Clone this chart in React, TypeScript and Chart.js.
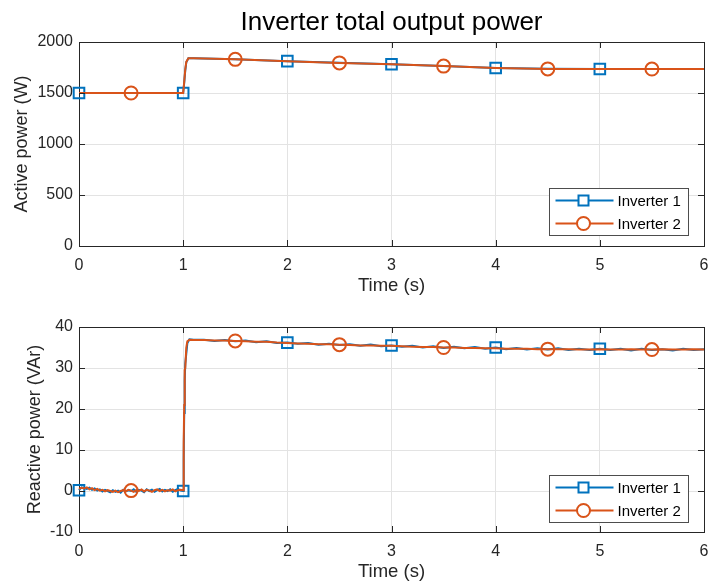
import React, { useEffect, useRef } from 'react';
import { Chart, registerables } from 'chart.js';

Chart.register(...registerables);

// ---------- data ----------
const T_P = [0, 0.5, 1, 1.01, 1.02, 1.03, 1.05, 1.1, 1.5, 2, 2.5, 3, 3.5, 4, 4.5, 5, 5.5, 6];
const P_INV1 = [1500, 1500, 1500, 1600, 1720, 1800, 1840, 1840, 1830, 1812, 1796, 1782, 1765, 1745, 1737, 1735, 1735, 1735];
const P_INV2 = [1500, 1500, 1500, 1610, 1730, 1805, 1840, 1840, 1830, 1812, 1795, 1781, 1764, 1745, 1736, 1735, 1735, 1735];

const T_Q = [
  0, 0.025, 0.05, 0.075, 0.1, 0.125, 0.15, 0.175, 0.2, 0.225, 0.25, 0.275, 0.3, 0.325, 0.35, 0.375, 0.4, 0.425, 0.45, 0.475,
  0.5, 0.525, 0.55, 0.575, 0.6, 0.625, 0.65, 0.675, 0.7, 0.725, 0.75, 0.775, 0.8, 0.825, 0.85, 0.875, 0.9, 0.925, 0.95, 0.975,
  1.0, 1.005, 1.01, 1.015, 1.02, 1.03, 1.04, 1.06, 1.1,
  1.2, 1.3, 1.4, 1.5, 1.6, 1.7, 1.8, 1.9, 2.0, 2.1, 2.2, 2.3, 2.4, 2.5, 2.6, 2.7, 2.8, 2.9, 3.0, 3.1, 3.2, 3.3, 3.4, 3.5,
  3.6, 3.7, 3.8, 3.9, 4.0, 4.1, 4.2, 4.3, 4.4, 4.5, 4.6, 4.7, 4.8, 4.9, 5.0, 5.1, 5.2, 5.3, 5.4, 5.5, 5.6, 5.7, 5.8, 5.9, 6.0,
];
const Q_INV1 = [
  0.2, 0.9, 0.7, 0.5, 0.8, 0.3, 0.6, 0.1, 0.4, -0.1, 0.3, 0.0, -0.3, 0.2, -0.2, 0.1, -0.4, 0.3, -0.1, 0.2,
  0.0, 0.4, -0.2, 0.3, 0.1, -0.3, 0.4, 0.0, 0.3, -0.2, 0.2, 0.5, -0.1, 0.3, 0.0, 0.4, -0.2, 0.2, 0.5, 0.1,
  0.0, 8, 19, 27, 31, 33.5, 36, 37.0, 36.9,
  36.9, 36.6, 36.8, 36.5, 36.7, 36.3, 36.5, 36.1, 36.2, 35.9, 36.1, 35.7, 35.9, 35.6, 35.8, 35.4, 35.7, 35.3, 35.5, 35.2, 35.4, 35.0, 35.3, 34.9,
  35.2, 34.8, 35.1, 34.7, 35.0, 34.6, 34.9, 34.5, 34.8, 34.5, 34.8, 34.4, 34.7, 34.4, 34.7, 34.4, 34.7, 34.3, 34.7, 34.4, 34.6, 34.3, 34.7, 34.4, 34.6,
];
const Q_INV2 = [
  0.5, 0.8, 0.6, 0.9, 0.4, 0.7, 0.2, 0.5, 0.1, 0.3, -0.1, 0.2, 0.0, -0.2, 0.1, -0.3, 0.0, 0.2, -0.1, 0.3,
  0.1, -0.2, 0.2, 0.0, 0.4, -0.1, 0.3, 0.1, -0.2, 0.2, 0.4, 0.0, 0.3, -0.1, 0.2, 0.1, 0.4, -0.1, 0.2, 0.3,
  0.2, 12, 21, 29.5, 30, 35, 36.5, 36.9, 36.8,
  36.8, 36.7, 36.7, 36.6, 36.5, 36.4, 36.4, 36.2, 36.1, 36.0, 35.9, 35.8, 35.8, 35.7, 35.6, 35.5, 35.5, 35.4, 35.4, 35.3, 35.2, 35.1, 35.1, 35.0,
  35.0, 34.9, 34.9, 34.8, 34.8, 34.7, 34.7, 34.7, 34.6, 34.6, 34.6, 34.6, 34.5, 34.5, 34.6, 34.5, 34.5, 34.6, 34.5, 34.5, 34.6, 34.5, 34.5, 34.6, 34.5,
];

const MARK_INV1 = [0, 1, 2, 3, 4, 5];
const MARK_INV2 = [0.5, 1.5, 2.5, 3.5, 4.5, 5.5];
const SERIES_NAMES = ['Inverter 1', 'Inverter 2'];
const X_TICKS = [0, 1, 2, 3, 4, 5, 6];
const P_TICKS = [0, 500, 1000, 1500, 2000];
const Q_TICKS = [-10, 0, 10, 20, 30, 40];

// ---------- style ----------
const BLUE = '#0072BD';
const ORANGE = '#D95319';
const AXIS = '#262626';
const GRID = '#e3e3e3';
const FONT = "'Liberation Sans', Arial, Helvetica, sans-serif";

const boxPlugin = {
  id: 'matlabBox',
  beforeDatasetsDraw(chart: any) {
    const ctx = chart.ctx;
    const a = chart.chartArea;
    ctx.save();
    ctx.strokeStyle = AXIS;
    ctx.lineWidth = 1;
    ctx.strokeRect(Math.round(a.left) + 0.5, Math.round(a.top) + 0.5, Math.round(a.right - a.left), Math.round(a.bottom - a.top));
    ctx.restore();
  },
  afterDraw(chart: any, _args: any, opts: any) {
    const ctx = chart.ctx;
    const a = chart.chartArea;
    const xs = chart.scales.x;
    const ys = chart.scales.y;
    ctx.save();
    ctx.strokeStyle = AXIS;
    ctx.lineWidth = 1;
    const tl = 6;
    ctx.beginPath();
    for (const v of opts.xTicks) {
      const px = Math.round(xs.getPixelForValue(v)) + 0.5;
      ctx.moveTo(px, a.bottom); ctx.lineTo(px, a.bottom - tl);
      ctx.moveTo(px, a.top); ctx.lineTo(px, a.top + tl);
    }
    for (const v of opts.yTicks) {
      const py = Math.round(ys.getPixelForValue(v)) + 0.5;
      ctx.moveTo(a.left, py); ctx.lineTo(a.left + tl, py);
      ctx.moveTo(a.right, py); ctx.lineTo(a.right - tl, py);
    }
    ctx.stroke();

    if (opts.title) {
      ctx.fillStyle = '#000';
      ctx.font = `26px ${FONT}`;
      ctx.textAlign = 'center';
      ctx.textBaseline = 'middle';
      ctx.fillText(opts.title, (a.left + a.right) / 2, 23);
    }

    const w = 139, h = 47;
    const lx = Math.round(a.right - 16 - w) + 0.5;
    const ly = Math.round(a.bottom - opts.legendBottom - h) + 0.5;
    ctx.fillStyle = '#fff';
    ctx.fillRect(lx, ly, w, h);
    ctx.strokeStyle = '#4d4d4d';
    ctx.lineWidth = 1;
    ctx.strokeRect(lx, ly, w, h);
    const colors = [BLUE, ORANGE];
    chart.data.datasets.forEach((ds: any, i: number) => {
      const ry = ly + 12 + i * 23;
      ctx.strokeStyle = colors[i];
      ctx.lineWidth = 2;
      ctx.beginPath();
      ctx.moveTo(lx + 6, ry); ctx.lineTo(lx + 64, ry);
      ctx.stroke();
      const mx = lx + 34;
      ctx.beginPath();
      if (i === 0) {
        ctx.rect(mx - 5, ry - 5, 10, 10);
      } else {
        ctx.arc(mx, ry, 6.5, 0, Math.PI * 2);
      }
      ctx.fillStyle = '#fff';
      ctx.fill();
      ctx.stroke();
      ctx.fillStyle = '#000';
      ctx.font = `15px ${FONT}`;
      ctx.textAlign = 'left';
      ctx.textBaseline = 'middle';
      ctx.fillText(ds.label, lx + 68, ry + 1);
    });
    ctx.restore();
  },
};

type PanelProps = {
  t: number[];
  s1: number[];
  s2: number[];
  yMin: number;
  yMax: number;
  yStep: number;
  yTicks: number[];
  yTitle: string;
  yTitlePad: number;
  title?: string;
  width: number;
  height: number;
  padTop: number;
  legendBottom: number;
};

function Panel(p: PanelProps) {
  const ref = useRef<HTMLCanvasElement | null>(null);
  useEffect(() => {
    if (!ref.current) return;
    const mk1 = new Set(MARK_INV1);
    const mk2 = new Set(MARK_INV2);
    const chart = new Chart(ref.current, {
      type: 'line',
      data: {
        datasets: [
          {
            label: SERIES_NAMES[0],
            data: p.t.map((x, i) => ({ x, y: p.s1[i] })),
            borderColor: BLUE,
            borderWidth: 2,
            pointStyle: 'rect',
            pointRadius: (c: any) => (mk1.has(c.raw?.x) ? 7.5 : 0),
            pointBorderColor: BLUE,
            pointBorderWidth: 2,
            pointBackgroundColor: 'rgba(0,0,0,0)',
            tension: 0,
            clip: false,
            order: 2,
          },
          {
            label: SERIES_NAMES[1],
            data: p.t.map((x, i) => ({ x, y: p.s2[i] })),
            borderColor: ORANGE,
            borderWidth: 2,
            pointStyle: 'circle',
            pointRadius: (c: any) => (mk2.has(c.raw?.x) ? 6.5 : 0),
            pointBorderColor: ORANGE,
            pointBorderWidth: 2,
            pointBackgroundColor: 'rgba(0,0,0,0)',
            tension: 0,
            clip: false,
            order: 1,
          },
        ],
      },
      options: {
        animation: false,
        responsive: false,
        events: [],
        layout: { autoPadding: false, padding: { left: 0, right: 5, top: p.padTop, bottom: 0 } },
        plugins: {
          legend: { display: false },
          title: { display: false },
          tooltip: { enabled: false },
          matlabBox: { xTicks: X_TICKS, yTicks: p.yTicks, title: p.title, legendBottom: p.legendBottom },
        } as any,
        scales: {
          x: {
            type: 'linear',
            min: 0,
            max: 6,
            afterFit: (s: any) => { s.height = 51; s.paddingLeft = 0; s.paddingRight = 0; },
            ticks: { stepSize: 1, color: AXIS, font: { family: FONT, size: 16 }, padding: 10, maxRotation: 0, callback: (v: any) => String(v) },
            grid: { color: GRID, drawTicks: false, lineWidth: 1 },
            border: { display: false },
            title: { display: true, text: 'Time (s)', color: AXIS, font: { family: FONT, size: 18.5 }, padding: { top: 0, bottom: 0 } },
          },
          y: {
            type: 'linear',
            min: p.yMin,
            max: p.yMax,
            afterFit: (s: any) => { s.width = 79; s.paddingTop = 0; s.paddingBottom = 0; },
            ticks: { stepSize: p.yStep, color: AXIS, font: { family: FONT, size: 16 }, padding: 6, callback: (v: any) => String(v) },
            grid: { color: GRID, drawTicks: false, lineWidth: 1 },
            border: { display: false },
            title: { display: true, text: p.yTitle, color: AXIS, font: { family: FONT, size: 18 }, padding: { top: p.yTitlePad, bottom: 0 } },
          },
        },
      } as any,
      plugins: [boxPlugin as any],
    });
    return () => chart.destroy();
  }, []);
  return <canvas ref={ref} width={p.width} height={p.height} style={{ display: 'block', width: p.width, height: p.height }} />;
}

export default function App() {
  return (
    <div style={{ position: 'absolute', left: 0, top: 0, width: 709, height: 583, background: '#fff' }}>
      <div style={{ position: 'absolute', left: 0, top: 0 }}>
        <Panel
          t={T_P} s1={P_INV1} s2={P_INV2}
          yMin={0} yMax={2000} yStep={500} yTicks={P_TICKS}
          yTitle="Active power (W)" yTitlePad={11}
          title="Inverter total output power"
          width={709} height={297} padTop={42} legendBottom={11}
        />
      </div>
      <div style={{ position: 'absolute', left: 0, top: 297 }}>
        <Panel
          t={T_Q} s1={Q_INV1} s2={Q_INV2}
          yMin={-10} yMax={40} yStep={10} yTicks={Q_TICKS}
          yTitle="Reactive power (VAr)" yTitlePad={24}
          width={709} height={286} padTop={30} legendBottom={10}
        />
      </div>
    </div>
  );
}
